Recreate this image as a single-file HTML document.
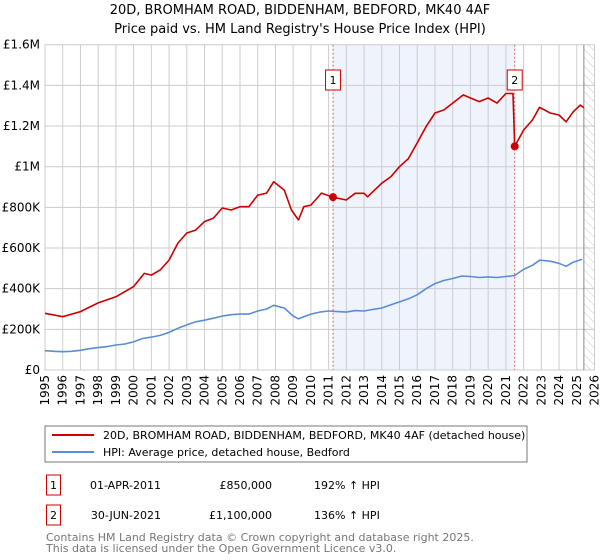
<!DOCTYPE html>
<html><head><meta charset="utf-8">
<style>
body{margin:0;background:#fff;font-family:"DejaVu Sans","Liberation Sans",sans-serif;}
#wrap{position:relative;width:600px;height:560px;overflow:hidden;}
</style></head>
<body>
<div id="wrap">
<svg id="chart" width="600" height="560" xmlns="http://www.w3.org/2000/svg" font-family="DejaVu Sans, Liberation Sans, sans-serif">
<text x="300" y="14" text-anchor="middle" font-size="13" fill="#000">20D, BROMHAM ROAD, BIDDENHAM, BEDFORD, MK40 4AF</text>
<text x="300" y="33" text-anchor="middle" font-size="13" fill="#000">Price paid vs. HM Land Registry's House Price Index (HPI)</text>
<defs><pattern id="hatch" width="6" height="6" patternUnits="userSpaceOnUse" patternTransform="rotate(-45)"><line x1="0" y1="0" x2="0" y2="6" stroke="#c8c8c8" stroke-width="1"/></pattern></defs>
<g id="plot"></g>
<rect x="45" y="426" width="482" height="36" fill="#fff" stroke="#777"/>
<line x1="52" y1="435" x2="94" y2="435" stroke="#cc0000" stroke-width="2"/>
<text x="103" y="439" font-size="11">20D, BROMHAM ROAD, BIDDENHAM, BEDFORD, MK40 4AF (detached house)</text>
<line x1="52" y1="452" x2="94" y2="452" stroke="#5b8dd6" stroke-width="2"/>
<text x="103" y="456" font-size="11">HPI: Average price, detached house, Bedford</text>
<rect x="46.5" y="475" width="14" height="20" fill="#fff" stroke="#cc0000"/>
<text x="53.5" y="489" font-size="11" text-anchor="middle">1</text>
<text x="161" y="489" font-size="11" text-anchor="end">01-APR-2011</text>
<text x="272" y="489" font-size="11" text-anchor="end">£850,000</text>
<text x="314" y="489" font-size="11">192% ↑ HPI</text>
<rect x="46.5" y="505" width="14" height="20" fill="#fff" stroke="#cc0000"/>
<text x="53.5" y="519" font-size="11" text-anchor="middle">2</text>
<text x="161" y="519" font-size="11" text-anchor="end">30-JUN-2021</text>
<text x="272" y="519" font-size="11" text-anchor="end">£1,100,000</text>
<text x="314" y="519" font-size="11">136% ↑ HPI</text>
<text x="46" y="541" font-size="11" fill="#777">Contains HM Land Registry data © Crown copyright and database right 2025.</text>
<text x="46" y="552" font-size="11" fill="#777">This data is licensed under the Open Government Licence v3.0.</text>
</svg>
</div>
<script>
const hpiYears=[1995,1995.5,1996,1996.5,1997,1997.5,1998,1998.5,1999,1999.5,2000,2000.5,2001,2001.5,2002,2002.5,2003,2003.5,2004,2004.5,2005,2005.5,2006,2006.5,2007,2007.5,2007.9,2008.5,2009,2009.3,2009.6,2010,2010.5,2011,2011.5,2012,2012.5,2013,2013.5,2014,2014.5,2015,2015.5,2016,2016.5,2017,2017.5,2018,2018.5,2019,2019.5,2020,2020.5,2021,2021.5,2022,2022.5,2022.9,2023.5,2024,2024.4,2024.8,2025.3];
const hpiValues=[95000,92000,90000,92000,97000,105000,110000,115000,123000,128000,138000,155000,162000,170000,185000,205000,222000,237000,245000,255000,265000,272000,275000,275000,290000,300000,318000,305000,265000,252000,262000,275000,285000,290000,287000,285000,292000,290000,298000,305000,320000,335000,350000,370000,400000,425000,440000,450000,462000,460000,455000,458000,455000,460000,465000,495000,515000,540000,535000,525000,510000,530000,545000];
const priceYears=[1995,1996,1997,1998,1999,2000,2000.6,2001,2001.5,2002,2002.5,2003,2003.5,2004,2004.5,2005,2005.5,2006,2006.5,2007,2007.5,2007.9,2008.5,2008.9,2009.3,2009.6,2010,2010.6,2011.25,2012,2012.5,2013,2013.2,2014,2014.5,2015,2015.5,2016,2016.5,2017,2017.5,2018,2018.6,2019,2019.5,2020,2020.5,2021,2021.4,2021.5,2022,2022.5,2022.9,2023.5,2024,2024.4,2024.8,2025.2,2025.4];
const priceValues=[279000,262000,287000,330000,360000,410000,475000,467000,492000,541000,624000,674000,688000,730000,747000,797000,787000,803000,803000,860000,870000,926000,885000,787000,738000,803000,811000,870000,850000,836000,869000,869000,852000,919000,950000,1000000,1040000,1117000,1197000,1264000,1279000,1313000,1353000,1338000,1320000,1338000,1313000,1360000,1360000,1100000,1180000,1230000,1292000,1264000,1254000,1221000,1270000,1303000,1290000];
const saleYears=[2011.25,2021.5];
const saleValues=[850000,1100000];
const saleLabels=["1","2"];
const yTicks=[0,200000,400000,600000,800000,1000000,1200000,1400000,1600000];
const yTickLabels=["£0","£200K","£400K","£600K","£800K","£1M","£1.2M","£1.4M","£1.6M"];
const xTicks=[1995,1996,1997,1998,1999,2000,2001,2002,2003,2004,2005,2006,2007,2008,2009,2010,2011,2012,2013,2014,2015,2016,2017,2018,2019,2020,2021,2022,2023,2024,2025,2026];

const X0=45,X1=594.5,Y0=370,Y1=44.7;
const xs=y=>X0+(y-1995)/(2026-1995)*(X1-X0);
const ys=v=>Y0-v/1600000*(Y0-Y1);
const NS="http://www.w3.org/2000/svg";
const g=document.getElementById('plot');
function mk(t,a){const e=document.createElementNS(NS,t);for(const k in a)e.setAttribute(k,a[k]);g.appendChild(e);return e;}

let e=mk('rect',{x:xs(saleYears[0]),y:Y1,width:xs(saleYears[1])-xs(saleYears[0]),height:Y0-Y1,fill:'#eef3fc'});


e=mk('rect',{x:xs(2025.4),y:Y1,width:X1-xs(2025.4),height:Y0-Y1,fill:'url(#hatch)'});


yTicks.forEach((v,i)=>{
  const l=mk('line',{x1:X0,x2:X1,y1:ys(v),y2:ys(v),stroke:'#cccccc','stroke-width':1});
  
  
  const t=mk('text',{x:X0-5,y:ys(v)+4,'text-anchor':'end','font-size':12});
  t.textContent=yTickLabels[i];
  
  
});
xTicks.forEach(yr=>{
  const l=mk('line',{x1:xs(yr),x2:xs(yr),y1:Y1,y2:Y0,stroke:'#cccccc','stroke-width':1});
  
  
  const t=mk('text',{x:0,y:0,'text-anchor':'end','font-size':12,transform:`translate(${xs(yr)+4},${Y0+5}) rotate(-90)`});
  t.textContent=yr;
  
  
});
e=mk('line',{x1:xs(2025.4),x2:xs(2025.4),y1:Y1,y2:Y0,stroke:'#888','stroke-width':1});


saleYears.forEach((yr,i)=>{
  const l=mk('line',{x1:xs(yr),x2:xs(yr),y1:Y1,y2:Y0,stroke:'#e06060','stroke-width':1,'stroke-dasharray':'2,2'});
  
  
});
function line(xa,va,col,name){
  const d=xa.map((x,i)=>(i?'L':'M')+xs(x).toFixed(1)+','+ys(va[i]).toFixed(1)).join(' ');
  const p=mk('path',{d:d,fill:'none',stroke:col,'stroke-width':1.6,'stroke-linejoin':'round'});
  
  
}
line(hpiYears,hpiValues,'#5b8dd6','hpi-line');
line(priceYears,priceValues,'#cc0000','price-line');
saleYears.forEach((yr,i)=>{
  const c=mk('circle',{cx:xs(yr),cy:ys(saleValues[i]),r:4,fill:'#cc0000'});
  
  
  const b=mk('rect',{x:xs(yr)-7.5,y:70,width:15,height:20,fill:'#fff',stroke:'#cc0000'});
  
  
  const t=mk('text',{x:xs(yr),y:84,'font-size':11,'text-anchor':'middle'});
  t.textContent=saleLabels[i];
  
  
});
</script>
</body></html>
